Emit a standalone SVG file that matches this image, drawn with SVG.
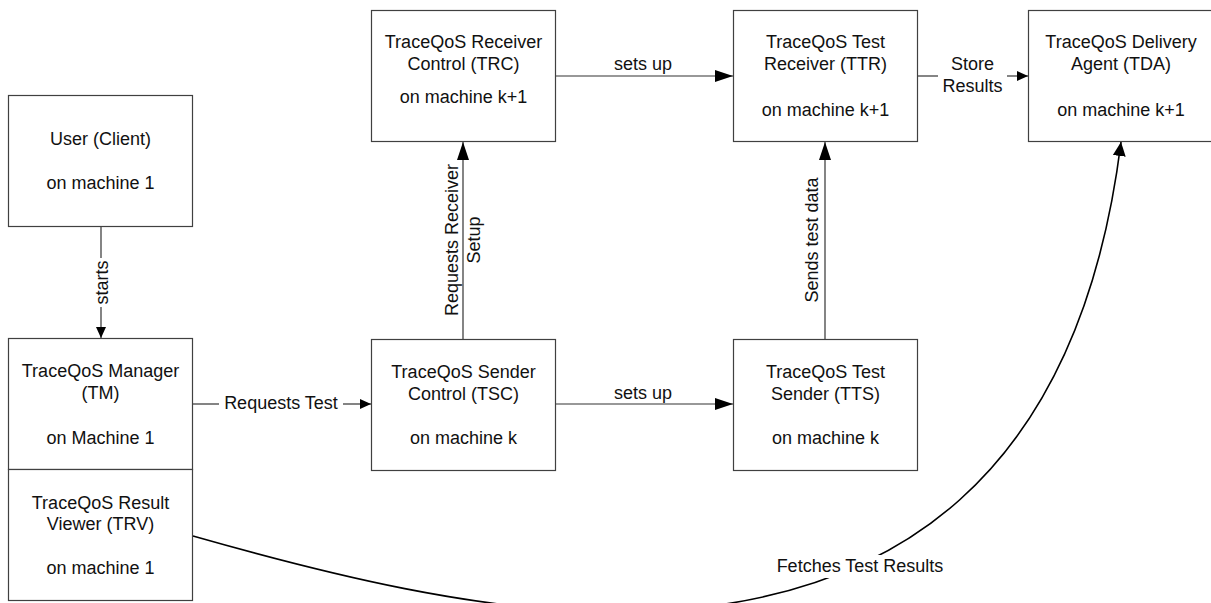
<svg xmlns="http://www.w3.org/2000/svg" width="1211" height="603" viewBox="0 0 1211 603">
  <style>
    .box { fill: #fff; stroke: #404040; stroke-width: 1.2; }
    .txt { font-family: "Liberation Sans", Arial, sans-serif; font-size: 18px; fill: #111; text-anchor: middle; }
    .edge { fill: none; stroke: #333; stroke-width: 1.2; }
    .curve { fill: none; stroke: #000; stroke-width: 1.6; }
  </style>
  <defs>
    <marker id="arrowL" viewBox="0 0 18 12" markerWidth="18" markerHeight="12" refX="18" refY="6" orient="auto" markerUnits="userSpaceOnUse">
      <path d="M0,0 L18,6 L0,12 z" fill="#000"/>
    </marker>
    <marker id="arrowS" viewBox="0 0 11 10" markerWidth="11" markerHeight="10" refX="11" refY="5" orient="auto" markerUnits="userSpaceOnUse">
      <path d="M0,0 L11,5 L0,10 z" fill="#000"/>
    </marker>
    <marker id="arrowC" viewBox="0 0 14 13" markerWidth="14" markerHeight="13" refX="14" refY="6.5" orient="auto" markerUnits="userSpaceOnUse">
      <path d="M0,0 L14,6.5 L0,13 z" fill="#000"/>
    </marker>
  </defs>

  <rect width="1211" height="603" fill="#fff"/>

  <!-- connectors -->
  <g id="connectors">
    <!-- User -> TM : starts -->
    <path class="edge" d="M101,227 V258"/>
    <path class="edge" d="M101,307 V338" marker-end="url(#arrowS)"/>
    <!-- TM -> TSC : Requests Test -->
    <path class="edge" d="M193,404 H219"/>
    <path class="edge" d="M343,404 H371" marker-end="url(#arrowS)"/>
    <!-- TSC -> TTS : sets up -->
    <path class="edge" d="M555,404 H733" marker-end="url(#arrowL)"/>
    <!-- TRC -> TTR : sets up -->
    <path class="edge" d="M555,76 H733" marker-end="url(#arrowL)"/>
    <!-- TTR -> TDA : Store Results -->
    <path class="edge" d="M917,76 H938"/>
    <path class="edge" d="M1007,76 H1028" marker-end="url(#arrowS)"/>
    <!-- TSC -> TRC : Requests Receiver Setup -->
    <path class="edge" d="M463,339 V142" marker-end="url(#arrowL)"/>
    <!-- TTS -> TTR : Sends test data -->
    <path class="edge" d="M825,339 V142" marker-end="url(#arrowL)"/>
    <!-- TRV -> TDA : Fetches Test Results -->
    <path class="curve" d="M193,536 C330,575 480,612 615,612 C900,612 1080,470 1121,142" marker-end="url(#arrowC)"/>

    <!-- connector labels -->
    <text class="txt" transform="translate(108,282.5) rotate(-90)">starts</text>
    <text class="txt" x="281" y="409">Requests Test</text>
    <text class="txt" x="643" y="70">sets up</text>
    <text class="txt" x="643" y="399">sets up</text>
    <text class="txt" x="972.5" y="70">Store</text>
    <text class="txt" x="972.5" y="92">Results</text>
    <text class="txt" transform="translate(458,240) rotate(-90)">Requests Receiver</text>
    <text class="txt" transform="translate(480,240) rotate(-90)">Setup</text>
    <text class="txt" transform="translate(818,240) rotate(-90)">Sends test data</text>
    <rect x="776" y="555" width="170" height="23" fill="#fff"/>
    <text class="txt" x="860" y="572">Fetches Test Results</text>
  </g>

  <!-- nodes -->
  <g id="user">
    <rect class="box" x="8.5" y="95.5" width="184" height="131"/>
    <text class="txt" x="100.5" y="145">User (Client)</text>
    <text class="txt" x="100.5" y="189">on machine 1</text>
  </g>
  <g id="tm">
    <rect class="box" x="8.5" y="338.5" width="184" height="131"/>
    <text class="txt" x="100.5" y="377">TraceQoS Manager</text>
    <text class="txt" x="100.5" y="399">(TM)</text>
    <text class="txt" x="100.5" y="444">on Machine 1</text>
  </g>
  <g id="trv">
    <rect class="box" x="8.5" y="469.5" width="184" height="131"/>
    <text class="txt" x="100.5" y="509">TraceQoS Result</text>
    <text class="txt" x="100.5" y="530">Viewer (TRV)</text>
    <text class="txt" x="100.5" y="574">on machine 1</text>
  </g>
  <g id="trc">
    <rect class="box" x="371.5" y="10.5" width="184" height="131"/>
    <text class="txt" x="463.5" y="48">TraceQoS Receiver</text>
    <text class="txt" x="463.5" y="70">Control (TRC)</text>
    <text class="txt" x="463.5" y="103">on machine k+1</text>
  </g>
  <g id="ttr">
    <rect class="box" x="733.5" y="10.5" width="184" height="131"/>
    <text class="txt" x="825.5" y="48">TraceQoS Test</text>
    <text class="txt" x="825.5" y="70">Receiver (TTR)</text>
    <text class="txt" x="825.5" y="116">on machine k+1</text>
  </g>
  <g id="tda">
    <rect class="box" x="1028.5" y="10.5" width="186" height="131"/>
    <text class="txt" x="1121" y="48">TraceQoS Delivery</text>
    <text class="txt" x="1121" y="70">Agent (TDA)</text>
    <text class="txt" x="1121" y="116">on machine k+1</text>
  </g>
  <g id="tsc">
    <rect class="box" x="371.5" y="339.5" width="184" height="131"/>
    <text class="txt" x="463.5" y="378">TraceQoS Sender</text>
    <text class="txt" x="463.5" y="400">Control (TSC)</text>
    <text class="txt" x="463.5" y="444">on machine k</text>
  </g>
  <g id="tts">
    <rect class="box" x="733.5" y="339.5" width="184" height="131"/>
    <text class="txt" x="825.5" y="378">TraceQoS Test</text>
    <text class="txt" x="825.5" y="400">Sender (TTS)</text>
    <text class="txt" x="825.5" y="444">on machine k</text>
  </g>
</svg>
